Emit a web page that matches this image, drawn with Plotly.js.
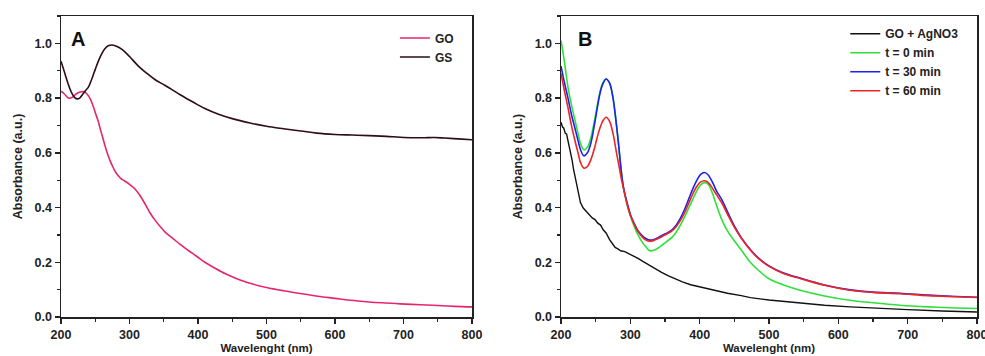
<!DOCTYPE html>
<html>
<head>
<meta charset="utf-8">
<script src="https://cdn.plot.ly/plotly-3.0.1.min.js"></script>
<style>html,body{margin:0;padding:0;background:#fff;}#chart{width:985px;height:356px;}</style>
</head>
<body>
<div id="chart"></div>
<script>
// Panel A
const goX = [200,205,211,216,222,228,233,238,243,247,250,254,257,261,264,267,271,275,279,283,288,293,300,308,315,323,330,337,345,352,362,374,386,398,410,425,440,455,476,500,525,549,575,600,622,650,675,695,725,750,775,800];
const goY = [0.825,0.815,0.800,0.802,0.815,0.822,0.824,0.815,0.795,0.770,0.747,0.718,0.690,0.655,0.628,0.603,0.575,0.552,0.532,0.518,0.505,0.497,0.485,0.468,0.445,0.412,0.380,0.355,0.330,0.310,0.290,0.265,0.243,0.222,0.200,0.178,0.158,0.142,0.123,0.108,0.096,0.086,0.076,0.068,0.061,0.055,0.051,0.048,0.045,0.042,0.039,0.037];
const gsX = [200,205,210,215,220,224,228,232,236,240,245,250,255,259,264,269,274,280,289,300,313,325,337,350,362,374,386,398,410,430,450,476,500,525,550,573,600,625,650,675,695,715,730,745,760,780,800];
const gsY = [0.935,0.895,0.855,0.822,0.802,0.797,0.802,0.815,0.828,0.840,0.870,0.905,0.938,0.960,0.980,0.991,0.994,0.990,0.978,0.952,0.917,0.891,0.868,0.849,0.831,0.812,0.795,0.778,0.762,0.741,0.725,0.709,0.697,0.688,0.680,0.672,0.667,0.665,0.663,0.660,0.657,0.655,0.655,0.656,0.654,0.651,0.648];

// Panel B
const bX = [200,205,210,215,220,225,228,233,238,243,248,252,256,260,265,270,275,280,283,287,290,295,300,305,311,318,323,328,334,340,347,353,360,366,372,378,384,390,396,401,407,412,418,424,432,440,451,460,473,485,500,520,545,580,617,650,689,730,770,800];
const greenY = [1.010,0.930,0.840,0.775,0.720,0.665,0.635,0.611,0.620,0.655,0.715,0.770,0.820,0.855,0.870,0.855,0.800,0.700,0.630,0.530,0.475,0.415,0.370,0.335,0.300,0.270,0.255,0.242,0.244,0.252,0.265,0.277,0.291,0.310,0.335,0.365,0.398,0.430,0.462,0.482,0.491,0.485,0.455,0.410,0.355,0.315,0.275,0.245,0.200,0.170,0.140,0.118,0.098,0.077,0.061,0.052,0.043,0.037,0.033,0.031];
const blueY = [0.917,0.855,0.800,0.740,0.690,0.640,0.612,0.589,0.600,0.635,0.700,0.760,0.815,0.850,0.870,0.855,0.800,0.700,0.630,0.530,0.475,0.420,0.375,0.345,0.315,0.295,0.286,0.281,0.283,0.290,0.300,0.307,0.318,0.335,0.360,0.392,0.430,0.468,0.500,0.520,0.528,0.520,0.495,0.462,0.428,0.385,0.328,0.290,0.247,0.215,0.187,0.162,0.142,0.117,0.099,0.091,0.087,0.080,0.075,0.072];
const redY = [0.890,0.825,0.765,0.700,0.645,0.595,0.565,0.544,0.550,0.575,0.615,0.655,0.690,0.715,0.730,0.715,0.670,0.600,0.560,0.505,0.470,0.415,0.372,0.342,0.312,0.290,0.280,0.277,0.280,0.287,0.296,0.304,0.315,0.330,0.352,0.380,0.415,0.450,0.478,0.493,0.498,0.492,0.472,0.448,0.416,0.376,0.324,0.288,0.245,0.213,0.185,0.160,0.141,0.116,0.098,0.090,0.085,0.078,0.074,0.071];
const blkX = [200,202,204,206,208,210,212,214,216,218,221,225,228,232,236,240,245,249,253,257,261,265,270,275,278,282,286,292,298,305,311,318,325,335,345,355,365,375,387,400,420,440,460,473,500,545,580,617,650,700,750,800];
const blkY = [0.712,0.695,0.690,0.672,0.668,0.645,0.625,0.600,0.572,0.540,0.500,0.452,0.418,0.398,0.386,0.378,0.362,0.356,0.343,0.336,0.318,0.307,0.283,0.265,0.254,0.249,0.242,0.239,0.231,0.224,0.214,0.203,0.192,0.177,0.163,0.150,0.139,0.128,0.118,0.110,0.098,0.087,0.078,0.071,0.062,0.050,0.043,0.037,0.032,0.027,0.022,0.018];

const xTicks = [200,300,400,500,600,700,800];
const yTicks = [0.0,0.2,0.4,0.6,0.8,1.0];
const yTickText = ['0.0','0.2','0.4','0.6','0.8','1.0'];

const FAM = 'Liberation Sans, Arial, sans-serif';
const tf = {family:FAM, size:12.5, color:'#222', weight:'bold'};
const xtf = {family:FAM, size:11.5, color:'#222', weight:'bold'};
const ytf = {family:FAM, size:12.5, color:'#222', weight:'bold'};

const traces = [
  {x:goX, y:goY, name:'GO', type:'scatter', mode:'lines', line:{color:'#e5266d', width:1.6, shape:'spline'}, xaxis:'x', yaxis:'y', legend:'legend'},
  {x:gsX, y:gsY, name:'GS', type:'scatter', mode:'lines', line:{color:'#2e0d15', width:1.6, shape:'spline'}, xaxis:'x', yaxis:'y', legend:'legend'},
  {x:blkX, y:blkY, name:'GO + AgNO3', type:'scatter', mode:'lines', line:{color:'#111111', width:1.4}, xaxis:'x2', yaxis:'y2', legend:'legend2'},
  {x:bX, y:greenY, name:'t = 0 min', type:'scatter', mode:'lines', line:{color:'#2ee03a', width:1.6, shape:'spline'}, xaxis:'x2', yaxis:'y2', legend:'legend2'},
  {x:bX, y:blueY, name:'t = 30 min', type:'scatter', mode:'lines', line:{color:'#1c22ee', width:1.6, shape:'spline'}, xaxis:'x2', yaxis:'y2', legend:'legend2'},
  {x:bX, y:redY, name:'t = 60 min', type:'scatter', mode:'lines', line:{color:'#ee2424', width:1.6, shape:'spline'}, xaxis:'x2', yaxis:'y2', legend:'legend2'}
];

function xa(dom, anchor){
  return {domain:dom, anchor:anchor, range:[200,800], tickvals:xTicks, ticks:'outside', ticklen:5, tickwidth:1.5, tickcolor:'#222',
    showline:true, linecolor:'#222', linewidth:1.5, mirror:true, showgrid:false, zeroline:false, tickfont:tf, ticklabeloverflow:'allow',
    minor:{dtick:50, tick0:250, ticks:'outside', ticklen:3, tickwidth:1.2, tickcolor:'#222', showgrid:false},
    title:{text:'Wavelenght (nm)', font:xtf, standoff:3}};
}
function ya(anchor){
  return {domain:[0,1], anchor:anchor, range:[0,1.1], tickvals:yTicks, ticktext:yTickText, ticks:'outside', ticklen:5, tickwidth:1.5, tickcolor:'#222',
    showline:true, linecolor:'#222', linewidth:1.5, mirror:true, showgrid:false, zeroline:false, tickfont:tf,
    minor:{dtick:0.2, tick0:0.1, ticks:'outside', ticklen:3, tickwidth:1.2, tickcolor:'#222', showgrid:false},
    title:{text:'Absorbance (a.u.)', font:ytf, standoff:9}};
}

const legFont = {family:FAM, size:12, color:'#222', weight:'bold'};
const layout = {
  width:985, height:356,
  margin:{l:61, r:8, t:16, b:39},
  paper_bgcolor:'#fff', plot_bgcolor:'#fff',
  showlegend:true,
  xaxis:xa([0,0.4487],'y'),
  yaxis:ya('x'),
  xaxis2:xa([0.5459,1],'y2'),
  yaxis2:ya('x2'),
  legend:{x:0.4344, xanchor:'right', y:0.975, yanchor:'top', bgcolor:'rgba(0,0,0,0)', font:legFont, tracegroupgap:0, itemwidth:30},
  legend2:{x:0.985, xanchor:'right', y:0.989, yanchor:'top', bgcolor:'rgba(0,0,0,0)', font:legFont, tracegroupgap:0, itemwidth:30},
  annotations:[
    {text:'A', xref:'paper', yref:'paper', x:0.009, y:0.925, xanchor:'left', yanchor:'middle', showarrow:false, font:{family:FAM, size:20, color:'#111', weight:'bold'}},
    {text:'B', xref:'paper', yref:'paper', x:0.562, y:0.925, xanchor:'left', yanchor:'middle', showarrow:false, font:{family:FAM, size:20, color:'#111', weight:'bold'}}
  ]
};

Plotly.newPlot('chart', traces, layout, {displayModeBar:false, staticPlot:true});
</script>
</body>
</html>
